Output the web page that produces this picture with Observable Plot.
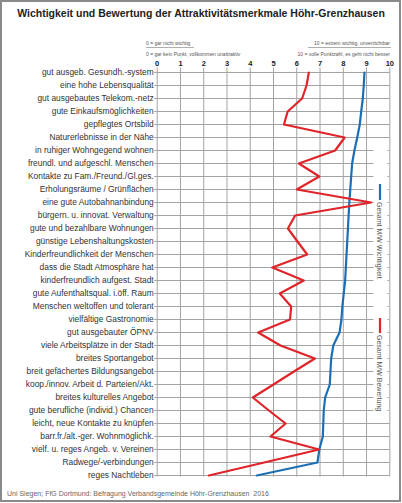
<!DOCTYPE html>
<html><head><meta charset="utf-8">
<script src="https://cdn.jsdelivr.net/npm/d3@7"></script>
<script src="https://cdn.jsdelivr.net/npm/@observablehq/plot@0.6"></script>
<style>
body{margin:0;background:#fff;}
#chart{width:402px;height:503px;}
</style></head><body><div id="chart"></div>
<script>
const categories = [
  "gut ausgeb. Gesundh.-system",
  "eine hohe Lebensqualität",
  "gut ausgebautes Telekom.-netz",
  "gute Einkaufsmöglichkeiten",
  "gepflegtes Ortsbild",
  "Naturerlebnisse in der Nähe",
  "in ruhiger Wohngegend wohnen",
  "freundl. und aufgeschl. Menschen",
  "Kontakte zu Fam./Freund./Gl.ges.",
  "Erholungsräume / Grünflächen",
  "eine gute Autobahnanbindung",
  "bürgern. u. innovat. Verwaltung",
  "gute und bezahlbare Wohnungen",
  "günstige Lebenshaltungskosten",
  "Kinderfreundlichkeit der Menschen",
  "dass die Stadt Atmosphäre hat",
  "kinderfreundlich aufgest. Stadt",
  "gute Aufenthaltsqual. i.öff. Raum",
  "Menschen weltoffen und tolerant",
  "vielfältige Gastronomie",
  "gut ausgebauter ÖPNV",
  "viele Arbeitsplätze in der Stadt",
  "breites Sportangebot",
  "breit gefächertes Bildungsangebot",
  "koop./innov. Arbeit d. Parteien/Akt.",
  "breites kulturelles Angebot",
  "gute berufliche (individ.) Chancen",
  "leicht, neue Kontakte zu knüpfen",
  "barr.fr./alt.-ger. Wohnmöglichk.",
  "vielf. u. reges Angeb. v. Vereinen",
  "Radwege/-verbindungen",
  "reges Nachtleben"
];
const wichtigkeit = [8.91, 8.88, 8.84, 8.77, 8.71, 8.60, 8.48, 8.38, 8.34, 8.30, 8.26, 8.23, 8.20, 8.17, 8.14, 8.11,
  8.08, 8.02, 7.96, 7.92, 7.84, 7.57, 7.48, 7.45, 7.42, 7.22, 7.16, 7.14, 7.12, 6.97, 6.89, 4.28];
const bewertung = [6.52, 6.42, 6.23, 5.61, 5.45, 8.06, 7.65, 6.09, 6.97, 6.00, 9.20, 5.93, 5.62, 6.03, 6.45, 4.95,
  6.30, 5.27, 5.76, 5.71, 4.34, 5.30, 6.78, 5.88, 5.00, 4.11, 4.80, 5.52, 4.87, 6.96, 4.60, 2.22];
const xTicks = [0, 1, 2, 3, 4, 5, 6, 7, 8, 9, 10];
const seriesNames = ["Gesamt M/W Wichtigkeit", "Gesamt M/W Bewertung"];
const title = "Wichtigkeit und Bewertung der Attraktivitätsmerkmale Höhr-Grenzhausen";
const notesLeft = ["0 = gar nicht wichtig", "0 = gar kein Punkt, vollkommen unattraktiv"];
const notesRight = ["10 = extrem wichtig, unverzichtbar", "10 = volle Punktzahl, es geht nicht besser"];
const caption = "Uni Siegen; FfG Dortmund: Befragung Verbandsgemeinde Höhr-Grenzhausen  2016";

const BLUE = "#1c6fb5", RED = "#e0242a", GRID = "#a3a3a3";
const rows = categories.map((c, i) => ({cat: c, w: wichtigkeit[i], b: bewertung[i]}));

const plot = Plot.plot({
  width: 402, height: 503,
  marginTop: 67.5, marginBottom: 26.5, marginLeft: 156.7, marginRight: 12.7,
  style: {fontFamily: "'Liberation Sans', Arial, sans-serif", background: "#fff", overflow: "visible"},
  x: {domain: [0, 10]},
  y: {type: "point", domain: categories, padding: 0, insetTop: 3.8},
  marks: [
    Plot.ruleY(categories, {stroke: GRID, strokeWidth: 1}),
    Plot.ruleX(xTicks, {stroke: GRID, strokeWidth: 1}),
    Plot.axisX({anchor: "top", ticks: xTicks, tickSize: 0, tickPadding: 2.5, fontWeight: "bold",
      fontSize: 7.5, label: null, tickFormat: d => d, fill: "#222"}),
    Plot.axisY({anchor: "left", tickSize: 2.5, tickPadding: 1, fontSize: 8.4, label: null,
      stroke: GRID, fill: "#333"}),
    Plot.line(rows, {x: "w", y: "cat", stroke: BLUE, strokeWidth: 2.2}),
    Plot.line(rows, {x: "b", y: "cat", stroke: RED, strokeWidth: 2.2})
  ]
});
document.getElementById("chart").appendChild(plot);

const svg = d3.select(plot);
const font = "'Liberation Sans', Arial, sans-serif";
const txt = () => svg.append("text").attr("font-family", font).attr("text-anchor", "start");

// legend background (hides grid behind the legend)
svg.insert("rect", 'g[aria-label="line"]')
  .attr("x", 373.5).attr("y", 146).attr("width", 14).attr("height", 269).attr("fill", "#fff");

// outer frame
svg.append("rect").attr("x", 1).attr("y", 1).attr("width", 399).attr("height", 500)
  .attr("fill", "none").attr("stroke", "#8a8a8a").attr("stroke-width", 2);

// title
txt().attr("x", 201).attr("y", 17).attr("text-anchor", "middle")
  .attr("font-size", 10.5).attr("font-weight", "bold").attr("fill", "#222")
  .text(title);

// scale notes
const nf = 5;
txt().attr("x", 146).attr("y", 44.5).attr("font-size", nf).attr("fill", "#555").text(notesLeft[0]);
txt().attr("x", 146).attr("y", 55.8).attr("font-size", nf).attr("fill", "#555").text(notesLeft[1]);
txt().attr("x", 390).attr("y", 44.5).attr("text-anchor", "end").attr("font-size", nf).attr("fill", "#555").text(notesRight[0]);
txt().attr("x", 390).attr("y", 55.8).attr("text-anchor", "end").attr("font-size", nf).attr("fill", "#555").text(notesRight[1]);
svg.append("line").attr("x1", 146).attr("x2", 194).attr("y1", 47.5).attr("y2", 47.5).attr("stroke", "#777").attr("stroke-width", 0.6);
svg.append("line").attr("x1", 308).attr("x2", 391).attr("y1", 47.5).attr("y2", 47.5).attr("stroke", "#777").attr("stroke-width", 0.6);

// legend
const legend = [
  {name: seriesNames[0], color: BLUE, y0: 184, y1: 200},
  {name: seriesNames[1], color: RED, y0: 318, y1: 333}
];
legend.forEach(l => {
  svg.append("line").attr("x1", 380).attr("x2", 380).attr("y1", l.y0).attr("y2", l.y1)
    .attr("stroke", l.color).attr("stroke-width", 2.2);
  txt().attr("transform", `translate(379,${l.y1 + 2}) rotate(90)`)
    .attr("dy", "0.35em").attr("font-size", 7).attr("fill", "#555")
    .text(l.name);
});

// caption
txt().attr("x", 7).attr("y", 495.5).attr("font-size", 7)
  .attr("fill", "#666").attr("xml:space", "preserve").text(caption);
</script>
</body></html>
